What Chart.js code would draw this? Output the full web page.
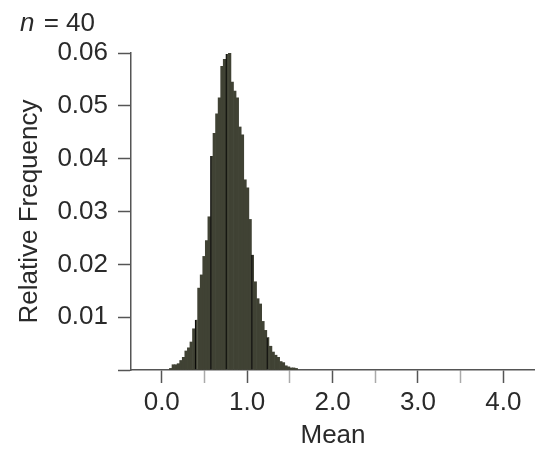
<!DOCTYPE html>
<html>
<head>
<meta charset="utf-8">
<script src="https://cdn.jsdelivr.net/npm/chart.js@4/dist/chart.umd.min.js"></script>
<style>
  html, body { margin: 0; padding: 0; background: #fff; }
  #wrap { width: 535px; height: 451px; }
</style>
</head>
<body>
<div id="wrap"><canvas id="meanChart"></canvas></div>
<script>
// sampling distribution of the mean, n = 40
const sampleSize = 40
const binCenters = [
  0.105, 0.135, 0.165, 0.195, 0.225, 0.255, 0.285, 0.315, 0.345, 0.375,
  0.405, 0.435, 0.465, 0.495, 0.525, 0.555, 0.585, 0.615, 0.645, 0.675,
  0.705, 0.735, 0.765, 0.795, 0.825, 0.855, 0.885, 0.915, 0.945, 0.975,
  1.005, 1.035, 1.065, 1.095, 1.125, 1.155, 1.185, 1.215, 1.245, 1.275,
  1.305, 1.335, 1.365, 1.395, 1.425, 1.455, 1.485, 1.515, 1.545, 1.575
]
const relFreq = [
  0.0003, 0.0010, 0.0010, 0.0012, 0.0018, 0.0024, 0.0036, 0.0042, 0.0053, 0.0078,
  0.0095, 0.0155, 0.0180, 0.0215, 0.0245, 0.0290, 0.0405, 0.0448, 0.0485, 0.0515,
  0.0575, 0.0588, 0.0598, 0.0606, 0.0545, 0.0528, 0.0515, 0.0460, 0.0445, 0.0360,
  0.0345, 0.0285, 0.0218, 0.0167, 0.0135, 0.0125, 0.0092, 0.0075, 0.0062, 0.0045,
  0.0034, 0.0028, 0.0024, 0.0016, 0.0014, 0.0008, 0.0006, 0.0004, 0.0004, 0.0003
]
const xTicks = [0, 0.5, 1, 1.5, 2, 2.5, 3, 3.5, 4]
const yTicks = [0, 0.01, 0.02, 0.03, 0.04, 0.05, 0.06]

const FONT = 'Liberation Sans, Arial, Helvetica, sans-serif'
const TEXT = '#2a2a2a'
const AXIS = '#555'
// bins that show a dark left edge in the original
const darkEdges = [10, 16, 22, 32, 38]

const points = binCenters.map((x, i) => ({x: x, y: relFreq[i]}))

const sampleLabel = {
  id: 'sampleLabel',
  afterDraw(chart) {
    const ctx = chart.ctx
    ctx.save()
    ctx.fillStyle = TEXT
    ctx.textBaseline = 'alphabetic'
    ctx.font = 'italic 26px ' + FONT
    ctx.fillText('n', 20, 31)
    const w = ctx.measureText('n').width
    ctx.font = '26px ' + FONT
    ctx.fillText(' = ' + sampleSize, 22 + w, 31)
    ctx.restore()
  }
}

const chart = new Chart(document.getElementById('meanChart').getContext('2d'), {
  type: 'bar',
  data: {
    datasets: [{
      label: 'Relative Frequency',
      data: points,
      backgroundColor: '#404234',
      borderColor: '#0a0a08',
      borderWidth: ctx => darkEdges.includes(ctx.dataIndex) ? {left: 2, right: 0, top: 0, bottom: 0} : 0,
      borderSkipped: false,
      barPercentage: 1,
      categoryPercentage: 1
    }]
  },
  plugins: [sampleLabel],
  options: {
    responsive: true,
    maintainAspectRatio: false,
    animation: false,
    layout: { padding: { top: 53, left: 0, right: 0, bottom: 0 } },
    plugins: {
      legend: { display: false },
      tooltip: { enabled: false }
    },
    scales: {
      x: {
        type: 'linear',
        offset: false,
        min: -0.36,
        max: 4.37,
        afterFit: scale => { scale.height = 81 },
        afterBuildTicks: scale => { scale.ticks = xTicks.map(v => ({value: v})) },
        grid: {
          drawOnChartArea: false,
          offset: false,
          tickLength: 13,
          tickWidth: 1.5,
          tickColor: ctx => (ctx.tick && ctx.tick.value % 1 !== 0) ? '#aaa' : AXIS
        },
        border: { color: AXIS, width: 1.5 },
        ticks: {
          color: TEXT,
          font: { family: FONT, size: 26 },
          padding: 4,
          maxRotation: 0,
          autoSkip: false,
          callback: v => v % 1 === 0 ? v.toFixed(1) : ''
        },
        title: {
          display: true,
          text: 'Mean',
          color: TEXT,
          font: { family: FONT, size: 26 },
          padding: 0
        }
      },
      y: {
        min: 0,
        max: 0.06,
        afterFit: scale => { scale.width = 131 },
        afterBuildTicks: scale => { scale.ticks = yTicks.map(v => ({value: v})) },
        grid: {
          drawOnChartArea: false,
          tickLength: 13,
          tickWidth: 1.5,
          tickColor: AXIS
        },
        border: { color: AXIS, width: 1.5 },
        ticks: {
          color: TEXT,
          font: { family: FONT, size: 26 },
          padding: 10,
          autoSkip: false,
          callback: v => v === 0 ? '' : v.toFixed(2)
        },
        title: {
          display: true,
          text: 'Relative Frequency',
          color: TEXT,
          font: { family: FONT, size: 26 },
          padding: { top: 14, bottom: 0 }
        }
      }
    }
  }
})
</script>
</body>
</html>
